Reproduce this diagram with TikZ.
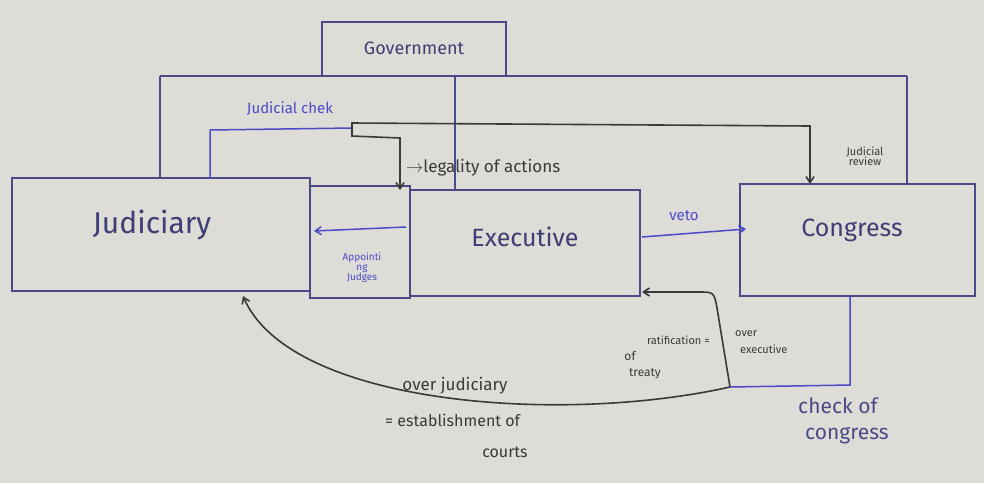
\documentclass[tikz,border=0pt]{standalone}
\usepackage{fontspec}
\setmainfont{Fira Sans}
\usetikzlibrary{arrows.meta}
\definecolor{paper}{HTML}{DDDCD7}
\definecolor{boxc}{HTML}{4A4A86}
\definecolor{inkc}{HTML}{3E3E74}
\definecolor{bluepen}{HTML}{4B4BC8}
\definecolor{pencil}{HTML}{3A3A3A}
\tikzset{
  boxline/.style={draw=boxc, line width=1.2pt},
  bluecon/.style={draw=bluepen, line width=1.5pt},
  blackcon/.style={draw=pencil, line width=1.6pt},
  tip/.style={-{Straight Barb[length=6pt,width=8pt]}},
  fs/.style={font=\fontsize{#1}{#1}\selectfont},
  lbl/.style={text=pencil, inner sep=0pt},
  blbl/.style={text=bluepen, inner sep=0pt},
}
\begin{document}
\begin{tikzpicture}[x=1pt,y=-1pt]
\fill[paper] (0,0) rectangle (984,483);
\useasboundingbox (0,0) rectangle (984,483);

% main boxes
\draw[boxline] (322,22) rectangle (506,76);
\node[text=inkc, fs=18] (gov) at (414,48) {Government};
\draw[boxline] (12,178) rectangle (310,291);
\node[text=inkc, fs=30] (jud) at (152,225) {Judiciary};
\draw[boxline] (310,186) rectangle (410,298);
\draw[boxline] (410,190) rectangle (640,296);
\node[text=inkc, fs=25] (exe) at (525,237) {Executive};
\draw[boxline] (740,184) rectangle (975,296);
\node[text=inkc, fs=25] (con) at (852,230) {Congress};

% government tree
\coordinate (gl) at (160,76);
\coordinate (gm) at (455,76);
\coordinate (gr) at (907,76);
\draw[boxline] (gl) -- (gr);
\draw[boxline] (gl) -- (160,178);
\draw[boxline] (gm) -- (455,190);
\draw[boxline] (gr) -- (907,184);

% judicial check
\coordinate (jc) at (352,128);
\coordinate (jcs) at (210,178);
\coordinate (jce) at (400,190);
\coordinate (jcc) at (810,184);
\draw[bluecon] (jcs) -- (210,130) -- (jc);
\draw[blackcon, tip] (jc) -- (352,123) -- (810,126) -- (jcc);
\draw[blackcon, tip] (jc) -- (352,136) -- (400,138) -- (jce);
\node[blbl, fs=15, anchor=south] (jchk) at (290,116) {Judicial chek};
\node[lbl, fs=17, anchor=west] (leg) at (406,168) {$\rightarrow$legality of actions};
\node[lbl, fs=11, align=center] (jrev) at (865,156) {Judicial\\[-1pt]review};

% veto
\coordinate (v1) at (642,237);
\coordinate (v2) at (746,229);
\draw[bluecon, tip] (v1) -- (v2);
\node[blbl, fs=15] (veto) at (684,216) {veto};

% appointing judges
\coordinate (a1) at (406,227);
\coordinate (a2) at (314,231);
\draw[bluecon, tip] (a1) -- (a2);
\node[blbl, fs=10, align=center] (appt) at (362,268) {Appointi\\ng\\Judges};

% congress check curve
\coordinate (b) at (730,387);
\coordinate (ee) at (642,292);
\coordinate (je) at (243,296);
\draw[blackcon, tip] (b) -- (717,308) .. controls (714,292) .. (698,292) -- (ee);
\draw[blackcon, tip] (b) .. controls (560,425) and (290,405) .. (je);
\draw[bluecon] (850,296) -- (850,385) -- (b);

\node[lbl, fs=11, anchor=east] (rat) at (710,340) {ratification =};
\node[lbl, fs=12] (of1) at (630,356) {of};
\node[lbl, fs=12] (trt) at (645,374) {treaty};
\node[lbl, fs=11, anchor=west] (ovex1) at (735,334) {over};
\node[lbl, fs=11, anchor=west] (ovex2) at (740,349) {executive};

\node[lbl, fs=17] (ovj) at (455,386) {over judiciary};
\node[lbl, fs=16, anchor=west] (est) at (385,420) {= establishment of};
\node[lbl, fs=16] (crt) at (505,452) {courts};

\node[text=boxc, fs=21, anchor=west, inner sep=0pt] (chk) at (798,406) {check of};
\node[text=boxc, fs=21, anchor=west, inner sep=0pt] (chk2) at (805,436) {congress};
\end{tikzpicture}
\end{document}
